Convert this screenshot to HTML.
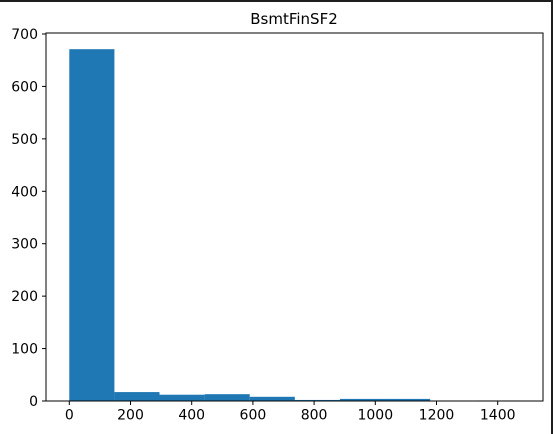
<!DOCTYPE html>
<html><head><meta charset="utf-8"><style>
html,body{margin:0;padding:0;background:#fff;}
svg{display:block;font-family:"DejaVu Sans","Liberation Sans",sans-serif;}
</style></head><body>
<svg id="chart" width="553" height="434">
<rect x="0" y="0" width="553" height="2" fill="#1e1e1e"/>
<rect x="551" y="0" width="2" height="434" fill="#1e1e1e"/>
<text x="294" y="24" font-size="15" text-anchor="middle" fill="#000">BsmtFinSF2</text>
<g id="bars"></g>
<g id="ticks"></g>
<rect x="46" y="33" width="497" height="368" fill="none" stroke="#000" stroke-width="1"/>
</svg>
<script>
const binEdges = [0,147.4,294.8,442.2,589.6,737,884.4,1031.8,1179.2,1326.6,1474];
const counts = [671,17,12,13,8,2,4,4,0,1];
const xTicks = [0,200,400,600,800,1000,1200,1400];
const yTicks = [0,100,200,300,400,500,600,700];
const X = v => 69.3 + v*0.306;
const Y = v => 401 - v*0.5243;
const ns='http://www.w3.org/2000/svg';
const bars=document.getElementById('bars'), ticks=document.getElementById('ticks');
counts.forEach((c,i)=>{
  const r=document.createElementNS(ns,'rect');
  r.setAttribute('x',X(binEdges[i]));
  r.setAttribute('width',X(binEdges[i+1])-X(binEdges[i]));
  r.setAttribute('y',Y(c));
  r.setAttribute('height',401-Y(c));
  r.setAttribute('fill','#1f77b4');
  
  
  bars.appendChild(r);
});
xTicks.forEach(t=>{
  const l=document.createElementNS(ns,'line');
  l.setAttribute('x1',X(t));l.setAttribute('x2',X(t));l.setAttribute('y1',401);l.setAttribute('y2',405);l.setAttribute('stroke','#000');
  
  
  ticks.appendChild(l);
  const tx=document.createElementNS(ns,'text');
  tx.setAttribute('x',X(t));tx.setAttribute('y',419.5);tx.setAttribute('font-size','14');tx.setAttribute('text-anchor','middle');
  tx.textContent=t;
  
  
  ticks.appendChild(tx);
});
yTicks.forEach(t=>{
  const l=document.createElementNS(ns,'line');
  l.setAttribute('x1',42);l.setAttribute('x2',46);l.setAttribute('y1',Y(t));l.setAttribute('y2',Y(t));l.setAttribute('stroke','#000');
  
  
  ticks.appendChild(l);
  const tx=document.createElementNS(ns,'text');
  tx.setAttribute('x',38);tx.setAttribute('y',Y(t)+5);tx.setAttribute('font-size','14');tx.setAttribute('text-anchor','end');
  tx.textContent=t;
  
  
  ticks.appendChild(tx);
});
</script>
</body></html>
